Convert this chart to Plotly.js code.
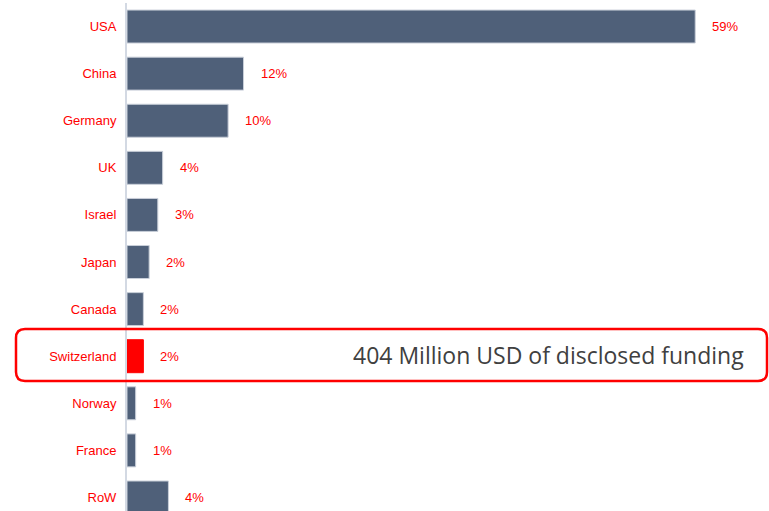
<!DOCTYPE html>
<html>
<head>
<meta charset="utf-8">
<script src="https://cdn.plot.ly/plotly-3.0.1.min.js"></script>
<style>html,body{margin:0;padding:0;background:#fff}</style>
</head>
<body>
<div id="chart" style="width:769px;height:511px"></div>
<script>
var countries = ["USA","China","Germany","UK","Israel","Japan","Canada","Switzerland","Norway","France","RoW"];
var shares = [59, 12.1, 10.5, 3.7, 3.2, 2.3, 1.7, 1.7, 0.9, 0.9, 4.3];
var shareLabels = ["59%","12%","10%","4%","3%","2%","2%","2%","1%","1%","4%"];
var highlight = "Switzerland";
var noteText = "404 Million USD of disclosed funding";

var W = 769, H = 511, mL = 127, mR = 16, mT = 3, mB = 0;
var pw = W - mL - mR, ph = H - mT - mB;
function px(x){ return (x - mL) / pw; }
function py(y){ return (H - mB - y) / ph; }

var colors = countries.map(function(c){ return c === highlight ? "#ff0000" : "#4f6079"; });
var lineColors = countries.map(function(c){ return c === highlight ? "#ff0000" : "#c9cfd9"; });

var trace = {
  type: "bar",
  orientation: "h",
  y: countries,
  x: shares,
  marker: {color: colors, line: {color: lineColors, width: 1}},
  hoverinfo: "none"
};

var annotations = countries.map(function(c, i){
  return {
    x: shares[i], y: c, xref: "x", yref: "y",
    text: shareLabels[i], showarrow: false,
    xanchor: "left", yanchor: "middle", xshift: 15,
    font: {family: "Liberation Sans, Arial, sans-serif", size: 13, color: "#ff0000"}
  };
});
annotations.push({
  x: px(746), y: highlight, xref: "paper", yref: "y",
  text: noteText, showarrow: false,
  xanchor: "right", yanchor: "middle", yshift: 1,
  font: {family: "Open Sans, sans-serif", size: 23, color: "#404040"}
});

// rounded rectangle in pixel terms converted to paper coords
var x0 = 16, x1 = 767, y0 = 329, y1 = 381, r = 9;
var path = "M " + px(x0 + r) + "," + py(y0) +
  " L " + px(x1 - r) + "," + py(y0) +
  " Q " + px(x1) + "," + py(y0) + " " + px(x1) + "," + py(y0 + r) +
  " L " + px(x1) + "," + py(y1 - r) +
  " Q " + px(x1) + "," + py(y1) + " " + px(x1 - r) + "," + py(y1) +
  " L " + px(x0 + r) + "," + py(y1) +
  " Q " + px(x0) + "," + py(y1) + " " + px(x0) + "," + py(y1 - r) +
  " L " + px(x0) + "," + py(y0 + r) +
  " Q " + px(x0) + "," + py(y0) + " " + px(x0 + r) + "," + py(y0) + " Z";

var layout = {
  width: W, height: H,
  margin: {l: mL, r: mR, t: mT, b: mB, pad: 0},
  paper_bgcolor: "#ffffff", plot_bgcolor: "#ffffff",
  showlegend: false,
  bargap: 0.3,
  xaxis: {range: [0, 65], visible: false, fixedrange: true},
  yaxis: {
    type: "category",
    categoryorder: "array", categoryarray: countries,
    range: [10.287, -0.5],
    showline: true, linecolor: "#d3d9e3", linewidth: 2,
    showgrid: false, zeroline: false,
    ticks: "", ticklabelstandoff: 6,
    tickfont: {family: "Liberation Sans, Arial, sans-serif", size: 13, color: "#ff0000"},
    fixedrange: true
  },
  annotations: annotations,
  shapes: [{
    type: "path", xref: "paper", yref: "paper", path: path,
    line: {color: "#ff0000", width: 2.5}, fillcolor: "rgba(0,0,0,0)", layer: "above"
  }]
};

Plotly.newPlot("chart", [trace], layout, {displayModeBar: false, staticPlot: true});
</script>
</body>
</html>
